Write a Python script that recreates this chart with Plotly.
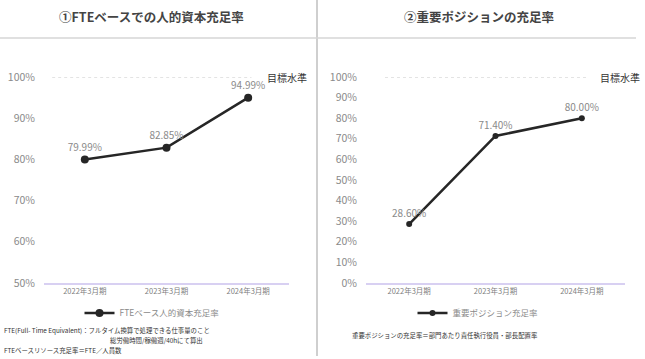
import plotly.graph_objects as go

categories = ["2022年3月期", "2023年3月期", "2024年3月期"]
fte_values = [79.99, 82.85, 94.99]
pos_values = [28.60, 71.40, 80.00]
target = 100
left_ticks = [50, 60, 70, 80, 90, 100]
right_ticks = [0, 10, 20, 30, 40, 50, 60, 70, 80, 90, 100]

title_left = "①FTEベースでの人的資本充足率"
title_right = "②重要ポジションの充足率"
legend_left = "FTEベース人的資本充足率"
legend_right = "重要ポジション充足率"
target_label = "目標水準"
note_left = ["FTE(Full- Time Equivalent)：フルタイム換算で処理できる仕事量のこと",
             "総労働時間/稼働週/40hにて算出",
             "FTEベースリソース充足率＝FTE／人員数"]
note_right = "重要ポジションの充足率＝部門あたり責任執行役員・部長配置率"

W, H = 645, 359
FONT = "Noto Sans CJK JP"
def px(x): return x / W
def py(y): return 1 - y / H

fig = go.Figure()
fig.add_trace(go.Scatter(
    x=categories, y=fte_values, mode="lines+markers+text", name=legend_left,
    line=dict(color="#262626", width=2.5), marker=dict(size=8, color="#262626"),
    text=fte_values, texttemplate="%{y:.2f}%", textposition="top center",
    textfont=dict(color="#8a8a8a", size=10, family=FONT),
    xaxis="x", yaxis="y", legend="legend", cliponaxis=False))
fig.add_trace(go.Scatter(
    x=categories, y=pos_values, mode="lines+markers+text", name=legend_right,
    line=dict(color="#262626", width=2.5), marker=dict(size=6, color="#262626"),
    text=pos_values, texttemplate="%{y:.2f}%", textposition="top center",
    textfont=dict(color="#8a8a8a", size=10, family=FONT),
    xaxis="x2", yaxis="y2", legend="legend2", cliponaxis=False))

ax_common = dict(showgrid=False, zeroline=False, ticks="", fixedrange=True, automargin=False)
ydom = [py(283), py(77)]
fig.update_layout(
    template="none",
    width=W, height=H, margin=dict(l=0, r=0, t=0, b=0, pad=0, autoexpand=False),
    paper_bgcolor="white", plot_bgcolor="white",
    font=dict(family=FONT, color="#808080"),
    xaxis=dict(domain=[px(44), px(289)], anchor="y", type="category", range=[-0.5, 2.5],
               showline=True, linecolor="#d8d0f2", linewidth=1.5,
               tickfont=dict(size=7.5, color="#808080"), **ax_common),
    yaxis=dict(domain=ydom, anchor="x", range=[50, 100], tickmode="array",
               tickvals=left_ticks, ticktext=[f"{v}%" for v in left_ticks],
               showline=False, tickfont=dict(size=10.5, color="#8a8a8a"),
               ticklabelstandoff=8, **ax_common),
    xaxis2=dict(domain=[px(366), px(625)], anchor="y2", type="category", range=[-0.5, 2.5],
                showline=True, linecolor="#d8d0f2", linewidth=1.5,
                tickfont=dict(size=7.5, color="#808080"), **ax_common),
    yaxis2=dict(domain=ydom, anchor="x2", range=[0, 100], tickmode="array",
                tickvals=right_ticks, ticktext=[f"{v}%" for v in right_ticks],
                showline=False, tickfont=dict(size=10.5, color="#8a8a8a"),
                ticklabelstandoff=8, **ax_common),
    legend=dict(x=px(152), y=py(313), xanchor="center", yanchor="middle",
                orientation="h", font=dict(size=8.5, color="#8a8a8a", family=FONT),
                itemwidth=30, bgcolor="rgba(0,0,0,0)"),
    legend2=dict(x=px(478), y=py(313), xanchor="center", yanchor="middle",
                 orientation="h", font=dict(size=8.5, color="#8a8a8a", family=FONT),
                 itemwidth=30, bgcolor="rgba(0,0,0,0)"),
    showlegend=True,
)

shapes = [
    dict(type="line", xref="x", yref="y", x0=-0.40, x1=2.04, y0=target, y1=target,
         line=dict(color="#c8c8c8", width=1, dash="dot")),
    dict(type="line", xref="x2", yref="y2", x0=-0.28, x1=2.06, y0=target, y1=target,
         line=dict(color="#c8c8c8", width=1, dash="dot")),
    dict(type="line", xref="paper", yref="paper", x0=px(317), x1=px(317), y0=py(356), y1=1,
         line=dict(color="#cfcfcf", width=2)),
    dict(type="line", xref="paper", yref="paper", x0=0, x1=px(636), y0=py(38), y1=py(38),
         line=dict(color="#d6d6d6", width=1.5)),
]
fig.update_layout(shapes=shapes)

def note(text, x, y, size=6.4):
    return dict(text=text, x=px(x), y=py(y), xref="paper", yref="paper", xanchor="left",
                yanchor="middle", showarrow=False, font=dict(size=size, color="#333333", family=FONT))

ann = [
    dict(text="<b>" + title_left + "</b>", x=px(151), y=py(17), xref="paper", yref="paper",
         xanchor="center", yanchor="middle",
         showarrow=False, font=dict(size=12.5, color="#444444", family=FONT)),
    dict(text="<b>" + title_right + "</b>", x=px(479), y=py(17), xref="paper", yref="paper",
         xanchor="center", yanchor="middle",
         showarrow=False, font=dict(size=12.5, color="#444444", family=FONT)),
    dict(text=target_label, x=px(265), y=target, xref="paper", yref="y", xanchor="left",
         yanchor="middle", showarrow=False, font=dict(size=10, color="#333333", family=FONT)),
    dict(text=target_label, x=px(598), y=target, xref="paper", yref="y2", xanchor="left",
         yanchor="middle", showarrow=False, font=dict(size=10, color="#333333", family=FONT)),
    note(note_left[0], 2, 330.5),
    note(note_left[1], 108, 340.5),
    note(note_left[2], 2, 350.5),
    note(note_right, 350, 335),
]
fig.update_layout(annotations=ann)

fig.write_html("out.html", config={"displayModeBar": False},
               post_script="document.body.style.margin='0';")
